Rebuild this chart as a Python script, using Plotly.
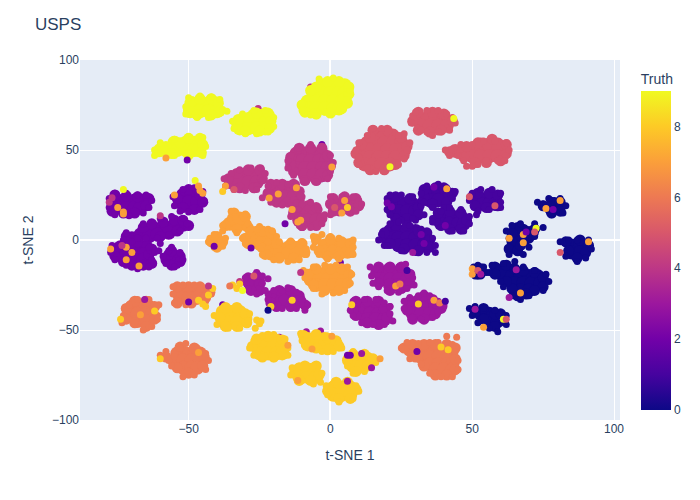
import plotly.graph_objects as go

# Values: (t-SNE 1, t-SNE 2), grouped by Truth class.
core_9 = [(-3,86),(0,86),(3,86),(5,86),(-6,81.5),(-3,81.5),(0,81.5),(3,81.5),(5,81.5),
          (-8,77),(-5,77),(-2,77),(1,77),(4,77),(5,78),(-8,73),(-5,73),(-2,73),(1,73),(3,73),
          (-49,76),(-46,76),(-43,76),(-40.5,76),(-49.5,71.5),(-46,71.5),(-43,71.5),(-40,71.5),
          (-27,69),(-24,69),(-22,69),(-32,65),(-29,65),(-26,65),(-23,65),(-32,62),(-29,62),(-26,62),(-23,62),
          (-51,54),(-48,54),(-46.5,54),(-55,54),(-60,50),(-57,50),(-54,50),(-51,50),(-48,50),(-46.5,50)]
edge_9 = [(-10,75),(-9,71),(-5,70),(0,70.5),(4,73),(6,76),(6.5,81),(6.5,85),(3,88),(-1,88),(-5,85),(-7,83),
          (-50,73),(-49,77),(-46,78.5),(-42,78.5),(-39.5,76),(-39,71.5),(-42,69.5),(-47,69.5),
          (-33,64),(-32.5,67),(-29,68),(-26,70.5),(-22,70.5),(-21,66),(-21.5,62),(-25,60.5),(-30,60.5),
          (-60.5,49),(-58,52),(-53,54),(-50,56.5),(-46,56.5),(-45,53),(-45.5,48.5),(-50,47.5),(-56,48)]
fringe_9 = [(-10,76),(-10,72),(-6,71),(-2,71),(7,83),(6,86),(1,90),(-4,89.5),(6,78),(-7,69.5),(-5,69),
            (-51,70),(-51,74),(-50,79),(-46,80),(-42,79.5),(-39,78),(-47,68),(-43,68),(-38,72.5),(-36.5,71.5),
            (-34,62),(-34.5,66),(-31,70),(-27,72),(-23,72),(-20,68),(-20,63),(-26,59),(-30,59),(-22,60),
            (-62,50),(-62,47),(-60,54),(-55,47),(-50,46),(-45,47),(-44,52),(-45,57),(-50,57.5),(-55,56)]

core_8 = [(-38,-40),(-35,-40),(-32,-40),(-38,-44),(-35,-44),(-32,-44),(-30,-44),(-36,-46),(-33,-46),
          (-24,-56),(-22,-56),(-19,-56),(-26,-59),(-23,-59),(-20,-59),(-17,-59),(-25,-63),(-22,-63),(-19,-63),(-17,-63),
          (-8,-55),(-5,-55),(-2,-55),(-8,-58),(-5,-58),(-2,-58),(1,-58),
          (-11,-72),(-8,-72),(-6,-72),(-11,-76),(-8,-76),(-5,-76),
          (1,-82),(4,-82),(7,-82),(1,-86),(4,-86),(7,-86),
          (8,-66),(11,-66),(13,-66),(8,-70),(11,-70)]
edge_8 = [(-39,-43),(-37,-37.5),(-33,-37.5),(-30,-41),(-29.5,-46),(-33,-48),(-37,-48),
          (-27.5,-59),(-26,-55),(-22,-53.5),(-17,-55.5),(-16,-60),(-20,-65),(-24,-65),
          (-9.5,-53),(-5,-52.5),(-1,-54.5),(2,-56),(3,-59),(-1,-61),(-5,-60),
          (-12.5,-73),(-9,-70),(-5,-70),(-4,-75),(-7,-78),(-11,-78),
          (-1,-84),(2,-79),(6,-79),(9,-83),(7,-88),(3,-88),
          (6,-67),(8,-63.5),(12,-63.5),(15,-66),(13,-70),(9,-73)]
fringe_8 = [(-41,-42),(-40,-47),(-36,-49),(-32,-49),(-29,-45),(-28.5,-41),(-37,-37),(-33,-37),
            (-26,-44.5),(-25,-46.5),(-26.5,-49),(-24.5,-45),
            (-28.5,-60),(-27,-56),(-24,-53),(-20,-52.5),(-16,-55),(-15,-60),(-15,-64),(-20,-66),(-24,-65),(-27,-64),
            (-10.5,-52),(-10,-56),(-7,-59),(-3,-62),(1,-62),(4,-60),(3,-57),(-5,-52),(-2,-54),
            (-13.5,-71),(-14,-75),(-11,-70),(-6,-70),(-3,-74),(-3.5,-79),(-6,-80),(-10,-78),
            (-1.5,-81),(2,-79),(6,-79),(9,-81),(10,-84),(8,-88),(3,-90),(-1,-86),
            (5.5,-66),(6,-70),(8,-74),(12,-73),(14,-70),(15,-66),(12,-63),(8,-62),(16,-68)]

core_7 = [(-35.5,9),(-32.5,9),(-30.5,9),(-34,12),(-32,12),
          (-28,2),(-25,2),(-22,2),(-27,-1),(-24,-1),(-22,-1),
          (-40,-1),
          (-21,-4.5),(-18,-4.5),(-15,-4.5),(-12,-4.5),(-10.5,-4.5),(-21,-7.5),(-18,-7.5),(-15,-7.5),(-12,-7.5),
          (-2,-3),(1,-3),(4,-3),(6,-3),(-2,-6.5),(1,-6.5),(4,-6.5),(6,-6.5),
          (-6,-19),(-3,-19),(0,-19),(3,-19),(5,-19),(-7,-22),(-4,-22),(-1,-22),(2,-22),(5,-22),(-5,-25),(-2,-25),(1,-25),(4,-25)]
edge_7 = [(-37,8),(-34,15),(-30,13),(-29,7),(-33,6),
          (-30,1),(-28,5),(-24,5),(-21,4),(-21,-2),(-25,-3),(-29,-2),
          (-23,-4),(-23,-8),(-19,-2),(-14,-2),(-10,-2),(-9,-7),(-13,-10),(-18,-10),
          (-42,-1),(-40,2),(-38,-1),(-40,-4),
          (-5,0.5),(0,0.5),(4,-1),(7,-2),(7,-7),(3,-9),(-1,-9),(-4,-6),
          (-8,-19),(-5,-16),(0,-16),(4,-16),(6.5,-19),(6,-24),(3,-28),(-2,-28),(-6,-25)]
fringe_7 = [(-38,8),(-38,5),(-35,16),(-33.5,13),(-30,14.5),(-29,9),(-28,6),(-33,4),
            (-31,1),(-30,-2),(-26,6),(-22,6),(-25,7.5),(-19,2),(-20.5,5),(-25.5,-2),(-24,-3.5),
            (-42.5,1),(-43,-1),(-41,3),(-37,1),(-38,-3.5),(-41,-4),
            (-24.5,-5),(-24,-8),(-22,-1),(-18,-1),(-14,-0.5),(-10,-1),(-8.5,-5),(-8.5,-8),(-11,-11),(-15,-12),(-20,-11),
            (-6,2),(-5.5,-1),(-3,3),(0,2),(3,1),(8,0),(8,-4),(8,-8),(3,-10.5),(-1,-10.5),(-4,-8),(-6,-4),
            (-9.5,-17),(-9,-21),(-6,-15),(-2,-14),(2,-14),(6,-15),(7.5,-19),(7,-24),(5,-28),(1,-29.5),(-3,-30),(-6,-27)]

core_6 = [(-53,-29),(-50,-29),(-47,-29),(-44.5,-29),(-53,-32),(-50,-32),(-47,-32),
          (-70,-37),(-67,-37),(-64,-37),(-71,-41),(-68,-41),(-65,-41),(-63,-41),(-68,-45),(-65,-45),
          (-54,-63),(-51,-63),(-48,-63),(-46,-63),(-55,-67),(-52,-67),(-49,-67),(-46,-67),(-52,-71),(-49,-71),(-47,-71),
          (28,-61),(31,-61),(34,-61),(37,-61),(40,-61),(42,-61),(32,-65),(35,-65),(38,-65),(41,-65),
          (35,-69),(38,-69),(41,-69),(43,-69),(37,-72),(40,-72),(43,-72)]
edge_6 = [(-54,-26),(-50,-26),(-46,-26),(-42.5,-29),(-44,-32),(-49,-35),(-54,-35),
          (-72,-38),(-69,-34),(-65,-34),(-62,-37),(-62,-44),(-65,-48),(-69,-46),(-72,-44),
          (-58,-65),(-53,-59.5),(-48,-60),(-44.5,-65),(-45,-70),(-50,-74),(-54,-71),
          (26,-60),(29,-58),(33,-58),(37,-58),(41,-58),(44,-60),(44,-66),(44,-72),(41,-75),(37,-75),(33,-70),(30,-65)]
fringe_6 = [(-55.5,-26),(-55.5,-30),(-55,-35),(-51,-36),(-47,-34),(-52,-25),(-48,-25),(-43,-28),(-42,-30),
            (-44,-34),
            (-71,-36),(-68,-33),(-64,-33),(-60.5,-36),(-61,-44),(-63,-48),(-66,-50),(-69,-46),(-73,-42),(-73.5,-46),(-61,-42),
            (-60,-64),(-58,-62),(-53,-60),(-51,-57.5),(-47,-60),(-44,-63),(-43,-67),(-44,-72),(-48,-75),(-52,-76),(-56,-70),(-57,-67),
            (25,-60),(27,-57),(31,-57.5),(35,-57),(38,-57),(28,-66),(32,-69),(35,-74),(39,-76),(43,-76),(45,-72),(45,-67),(44,-62),(43,-58),(44.5,-54),(41,-53.5)]

core_5 = [(31,67.5),(34,67.5),(37,67.5),(40,67.5),(32,63.5),(35,63.5),(38,63.5),(41,63.5),
          (16,58),(19,58),(22,58),(13,54),(16,54),(19,54),(22,54),(25,54),
          (11,50),(14,50),(17,50),(20,50),(23,50),(26,50),(11,46),(14,46),(17,46),(20,46),(23,46),
          (12,42),(15,42),(18,42),(21,42),
          (44,49.5),(47,49.5),(50,49.5),(53,49.5),(56,49.5),(59,49.5),(61,49.5),(53,53),(56,53),(59,53),
          (50,46.5),(53,46.5),(56,46.5),(59,46.5)]
edge_5 = [(29,66),(31,71),(36,71),(40,70),(43,66),(39,61),(35,60),(31,61),
          (15,61),(20,61),(25,57),(27,52),(26,47),(23,42),(19,39),(14,39),(10,43),(9,48),(11,53),(14,57),
          (42,49),(47,46),(51,43),(55,43),(60,44),(62,48),(62,53),(57,56),(52,54),(48,52)]
fringe_5 = [(28.5,65),(29,69),(30,71),(34,72),(38,72),(41,70),(43,68),(44,65),(42,61),(38,60),(34,60),(36,58),(32,61),
            (9,50),(10,46),(10,42),(13,40),(16,38),(20,40),(24,42),(26,45),(27,50),(28,54),(26,59),(24,58),(18,62),(15,62),(13,58),(10,54),
            (40.5,50),(42,47),(45,47),(47,44),(52,42),(50,41),(48,41),(55,44),(59,44),(62,47),(63,50),(62,54),(58,55),(54,55),(50,53),(46,53),(61.5,44)]

core_4 = [(-12,48),(-9,48),(-6,48),(-3,48),(-13,44),(-10,44),(-7,44),(-4,44),(-1.5,44),
          (-12,40),(-9,40),(-6,40),(-3,40),(-1,40),(-9,36),(-6,36),(-3,36),
          (-31,36),(-28,36),(-26,36),(-35,32),(-32,32),(-29,32),(-26,32),
          (-20,28),(-17,28),(-14,28),(-19,24),(-16,24),(-13,24),
          (-11,15),(-8,15),(-5.5,15),(-11,11),(-8,11),(-5,11),
          (2,20),(5,20),(8,20),(3,17)]
edge_4 = [(-14,46),(-11,51),(-7,51),(-3,51),(-1,47),(0,41),(-1,36),(-5,33),(-9,33),(-13,38),(-14,42),
          (-36,34),(-33,37),(-29,39),(-25,39),(-24,34),(-27,29),(-32,29),
          (-22,26),(-21,31),(-17,31),(-13,31),(-11,27),(-11,22),(-15,21),(-19,21),
          (-13,15),(-12,18),(-8,19),(-5,18),(-3,12),(-5,8),(-10,8),
          (1,23),(5,24),(9,23),(10,19),(7,16),(1,16),(0,20)]
fringe_4 = [(-15,44),(-15,40),(-14,47),(-11,51),(-7,53),(-3,52),(0,47),(1,43),(0,38),(-1,34),(-5,32.5),(-9,33),(-13,36),
            (-37.5,34),(-37,30),(-35,37),(-32,39),(-28,40),(-24.5,40),(-23,37),(-24,33),(-26,30),(-30,27.5),(-34,28),(-26,28),
            (-24,23.5),(-22,30),(-19,32),(-15,31),(-12,31),(-11,27),(-10,24),(-14,21),(-17,19.5),(-21,21),(-10.5,24.5),(-13,22.5),(-12,20.5),
            (-14,13),(-13,17),(-10,20),(-7,21),(-4,17),(-2,14),(-3,9),(-7,7),(-11,8),(-4.5,18),
            (0,24),(0,21),(4,24),(8,24),(10,22),(11,20),(6,16),(9,16),(0,14)]

core_3 = [(18,-18),(21,-18),(24,-18),(26,-18),(18,-22),(21,-22),(24,-22),(27,-22),(21,-25),(24,-25),
          (10,-37),(13,-37),(16,-37),(11,-41),(14,-41),(17,-41),(19,-41),(13,-44),(16,-44),(19,-44),
          (31,-34),(33,-34),(28,-37),(31,-37),(34,-37),(37,-37),(29,-41),(32,-41),(35,-41),
          (-19,-31),(-16,-31),(-13,-31),(-19,-34),(-16,-34),(-13,-34),(-11,-34),
          (-27,-23),(-25.5,-23),(-27,-26)]
edge_3 = [(16,-18),(17,-15),(21,-15),(25,-15),(28,-19),(28,-24),(25,-27),(21,-28),(17,-24),
          (9,-34),(13,-34),(17,-34),(19,-38),(20,-43),(17,-47),(13,-46),(9,-42),(8,-39),
          (28,-34),(33,-31),(36,-33),(39,-38),(37,-41),(33,-44),(29,-44),(27,-39),
          (-21,-31),(-18,-28),(-14,-28),(-11,-31),(-9,-36),(-14,-37),(-19,-37),(-21,-35),
          (-29,-21),(-26,-20),(-25,-25),(-25,-28),(-28,-28),(-29,-24)]
fringe_3 = [(14.5,-20),(15,-24),(16,-16),(20,-15),(24,-15),(27,-17),(29,-21),(29.5,-25),(27,-27),(24,-29),(20,-28),(17,-26),(14,-15),(26.5,-13.5),
            (8,-34),(12,-33),(16,-33),(19,-35),(21,-37),(21,-41),(22,-45),(19,-47),(15,-47),(11,-46),(8,-42),(7,-39),
            (26,-34),(26,-38),(28,-32),(31,-31),(33,-29.5),(35,-31),(38,-34),(40,-37),(38,-40),(36,-43),(32,-44),(29,-43),(40,-36),
            (-22,-33),(-22,-30),(-20,-28),(-17,-28),(-15,-26.5),(-12,-29),(-10,-33),(-8,-36),(-9,-39),(-12,-38),(-17,-38),(-20,-36),
            (-30,-21),(-26,-18),(-24,-20),(-24,-24),(-23,-28),(-26,-30),(-29,-27),(-22,-21.5)]

core_2 = [(-75,22),(-72,22),(-69,22),(-66,22),(-75,18),(-72,18),(-69,18),(-67,18),
          (-52,25),(-49,25),(-47,25),(-53,21),(-50,21),(-47,21),
          (-70,1),(-67,3),(-64,5),(-61,6),(-58,7),(-55,8),(-52,8.5),(-64,2),(-61,3),(-57,4),
          (-74,-4),(-71,-4),(-68,-4),(-65,-4),(-75,-8),(-72,-8),(-69,-8),(-66,-8),(-72,-11),(-69,-11),(-66,-11),
          (-55,-9),(-55,-11)]
edge_2 = [(-77,20),(-76,25),(-72,24.5),(-68,24),(-64,23),(-65,19),(-69,15),(-73,15),(-77,16),
          (-54,23),(-50,28),(-46,25),(-45,21),(-48,17),(-52,18),
          (-66,7),(-63,9),(-59,10),(-55,11),(-52,11),(-50,8),(-54,5),(-68,0),(-72,2),(-60,2),
          (-76,-5),(-76,-9),(-73,-12),(-70,-14),(-66,-14),(-63,-13),(-64,-8),(-63,-5),(-72,-1),(-68,-1),
          (-58,-11),(-57,-8),(-53,-9),(-53,-12),(-56,-14),(-56,-6)]
fringe_2 = [(-78,23),(-76,26),(-72,26),(-68,25),(-65,25),(-63,22),(-64,18),(-66,15),(-71,13.5),(-76,14),(-78,18),
            (-55.5,24),(-55,19),(-52,28),(-48,29),(-45,27),(-44.5,22),(-46,17),(-50,15.5),(-53,16),
            (-73,0),(-70,-1),(-66,9),(-60,12),(-56,13),(-52,12),(-50.5,9),(-53,5),(-57,3),(-61,1),(-65,1),(-72,4),
            (-77,-3),(-77.5,-7),(-76,-11),(-72,-14),(-68,-16),(-64,-15),(-63,-11),(-62,-7),(-64,-4),(-68,1),(-60.5,-6),(-60,-2),
            (-59,-9),(-58,-13),(-54,-14),(-52,-11),(-53,-7),(-57,-6),(-55,-15),(-56,-4)]

core_1 = [(23,20),(26,20),(29,20),(24,16),(27,16),(30,16),
          (35,26),(38,26),(41,26),(35,22),(38,22),
          (40,13),(43,13),(46,13),(39,9),(42,9),(45,9),(47,9),
          (52,23),(55,23),(58,23),(53,20),(56,20),(58,20),
          (21,5),(24,5),(27,5),(30,5),(21,1),(24,1),(27,1),(30,1),(33,1),(24,-3),(27,-3),(30,-3),(33,-3)]
edge_1 = [(21,22),(23,24),(28,23),(31,18),(31,14),(27,12),(23,12),(21,17),
          (33,24),(33,28),(37,29),(40,29),(43,26),(41,21),(36,20),
          (37,11),(38,15),(42,16),(46,15),(48,11),(46,6),(42,6),
          (50,24),(52,26),(56,26),(59,25),(59,19),(55,18),(51,19),
          (19,1),(19,4),(23,8),(27,8),(31,5),(34,4),(35,0),(35,-4),(31,-6),(26,-5),(21,-2)]
fringe_1 = [(20,23),(21,25),(25,25),(29,24),(32,20),(33,14),(30,11),(25,11),(21,14),(20,17),(32,19),(29,12),
            (32,26),(32,22),(34,30),(38,31),(41,29),(44,27),(43,23),(40,18),(36,18),(33,21),
            (36,12),(39,16),(42,18),(46,17),(49,13),(49,9),(47,5),(43,5),(39,7),(36,10),
            (49,22),(50,26),(53,28),(57,28),(60,26),(60,21),(60,18),(56,17),(52,16),
            (18,3),(17,0),(19,-3),(21,9),(24,10),(20,-3),(25,-6),(30,-7),(34,-7),(37,-3),(36,1),(32,6),(28,8),(37,-7)]

core_0 = [(78,17),(80,18),(79,20),(66,4),(69,4),(71,4),(65,0),(68,0),(65,-4),
          (85,-3),(88,-3),(85,-7),(88,-7),
          (60,-17),(63,-17),(61,-20),(64,-20),(67,-20),(70,-20),(73,-20),(65,-24),(68,-24),(71,-24),(74,-24),(67,-28),(70,-28),
          (53,-41),(56,-41),(56,-45),(59,-45)]
edge_0 = [(75,19),(78,21),(81,21),(81,16),(78,15),
          (68,6),(72,6),(66,7),(64,4),(64,-1),(63,-5),(66,-6),(67,-3),(70,1),
          (83,-1),(88,0),(91,-3),(90,-7),(87,-10),(84,-6),
          (58,-15),(58,-19),(62,-14),(65,-16),(68,-17),(72,-18),(75,-21),(75,-26),(72,-28),(64,-27),(62,-23),(66,-31),(69,-30),
          (51,-40),(54,-38),(58,-41),(61,-44),(58,-48),(54,-44),(60,-41),
          (51.5,-17),(53,-16),(53,-18.5),(52,-19)]
fringe_0 = [(73,21),(75,20),(76,18),(78,14),(82,15),(83,19),(81,23),(77,23),
            (62,5),(63,1),(63,-4),(63,-8),(68,-8),(70,-4),(72,2),(75,7),(72,9),(67,9),(64,8),
            (81,-1),(83,-9),(87,-12),(90,-10),(92,-5),(91,0),(87,0),(84,0),
            (56,-18),(57,-14),(61,-13),(65,-12),(68,-15),(72,-17),(76,-19),(77,-23),(75,-28),(70,-31),(67,-33),(64,-31),(61,-26),(60,-23),
            (49,-38),(50,-42),(52,-46),(56,-49),(59,-51),(62,-47),(62,-42),(58,-39),(54,-38),(51,-37),
            (50.5,-15),(52,-14),(54,-15),(55,-18),(53,-20),(51,-20)]

# points mostly hidden behind the blobs
behind_x = [-7,-9,5,-25.5,-38,-38,-18,-8.5,-3.5,-1,2.5,-3,-3,-10,3.5]
behind_y = [85,73.5,75,73,-36,-47,-54,-51,-50.5,-54,-55.5,34,53,7,-12.5]
behind_truth = [4,4,4,4,2,3,3,3,3,3,3,2,2,2,2]

# single points lying on top of the blobs or beside them
strays_x = [-58,-50.5,-47.7,-73,-55,-46.5,-46,-45,-77,-78,-75,-73,-73,-60,-37,-38,-34,-12,-18.4,-21.6,-13.5,-11.5,-10.5,-16,
            0.5,5,6,4,1.5,43.5,21,36.5,41,20,21.5,49,58,51.5,40.5,32,81,76,78.5,72.5,68,72,69,63,
            -77.5,-72,-73.5,-70,-72,-67.5,-10.5,-41,-28,-27,-32,-34.5,-32,-33,-31,-35.5,-13.5,-21,-22,
            -41.5,-43,-46.5,-45,-44,-43,-50,-65.5,-62,-67,-74,-15,0.5,-6.5,-11.5,6,6,-60,-46.5,
            27,23,24.5,7.5,21,31,36.5,38.5,40.5,50,50,52,53,65.5,67,63,51,61,62,54,91,81,68,29,33,39,41.5,30.5,17.5,14.5,7,11]
strays_y = [45.5,44.5,33,28,25,30,27.5,26,23.5,21,18,15.5,14.5,13.5,30,27,28,29,25.6,23.4,17,10,11,9,
            40.6,22,18,15,18,67.5,40.7,29.5,28.5,20.5,18.5,24,19,14,8,3,22,17.5,17,6.5,3,4.5,4.5,1,
            -5,-4,-3,-7,-11,-14.5,-18,-3.5,-4.5,-20,-23,-25,-24.5,-27,-28,-25.5,-33.5,-37,-39,
            -27,-30.5,-33.5,-35.5,-37,-25.5,-34.5,-33,-39.5,-41.5,-44,-58.5,-53.5,-60.5,-78,-78.5,-64,-66,-62.5,
            -17,-25.5,-24.5,-36,-37,-35.5,-33.5,-35,-34,-16,-19,-17,-19,-16.5,-29.5,-32,-38.5,-44,-44,-48.5,-1,-7,-1.5,-7,-2,-59.5,-61,-62,-66,-71,-64,-63]
strays_truth = [7,2,9,9,7,7,7,7,4,4,7,7,7,4,7,8,5,7,7,7,7,7,7,2,
                7,7,8,7,5,9,9,2,7,2,2,5,5,1,2,2,7,7,2,9,7,5,2,7,
                7,7,4,7,7,7,4,2,2,5,4,8,8,8,9,6,8,8,0,
                8,8,8,8,8,4,2,3,8,7,8,7,7,7,7,3,2,8,7,
                1,7,6,8,3,8,7,6,1,7,7,5,3,3,7,3,3,9,5,7,7,5,7,3,2,8,8,2,7,3,2,3]
assert len(strays_x) == len(strays_y) == len(strays_truth)

tick_vals = [0, 2, 4, 6, 8]
core_groups = [(9, core_9), (8, core_8), (7, core_7), (6, core_6), (5, core_5),
               (4, core_4), (3, core_3), (2, core_2), (1, core_1), (0, core_0)]
edge_groups = [(9, edge_9), (8, edge_8), (7, edge_7), (6, edge_6), (5, edge_5),
               (4, edge_4), (3, edge_3), (2, edge_2), (1, edge_1), (0, edge_0)]
fringe_groups = [(9, fringe_9), (8, fringe_8), (7, fringe_7), (6, fringe_6), (5, fringe_5),
                 (4, fringe_4), (3, fringe_3), (2, fringe_2), (1, fringe_1), (0, fringe_0)]


def add_groups(fig, groups, size):
    xs, ys, cs = [], [], []
    for truth, pts in groups:
        for x, y in pts:
            xs.append(x)
            ys.append(y)
            cs.append(truth)
    fig.add_trace(go.Scatter(x=xs, y=ys, mode="markers", showlegend=False,
                             marker=dict(size=size, color=cs, coloraxis="coloraxis")))


fig = go.Figure()
fig.add_trace(go.Scatter(x=behind_x, y=behind_y, mode="markers", showlegend=False,
                         marker=dict(size=7, color=behind_truth, coloraxis="coloraxis")))
add_groups(fig, core_groups, 14)
add_groups(fig, edge_groups, 11)
add_groups(fig, fringe_groups, 7)
fig.add_trace(go.Scatter(x=strays_x, y=strays_y, mode="markers", showlegend=False,
                         marker=dict(size=7, color=strays_truth, coloraxis="coloraxis")))
fig.update_layout(
    template="plotly",
    font=dict(family="Liberation Sans"),
    width=700, height=500,
    margin=dict(l=80, r=80, t=60, b=80),
    title=dict(text="USPS"),
    coloraxis=dict(colorscale="Plasma", cmin=0, cmax=9,
                   colorbar=dict(title=dict(text="Truth"), tickvals=tick_vals)),
    xaxis=dict(title="t-SNE 1", range=[-88.3, 102.1], tickvals=[-50, 0, 50, 100]),
    yaxis=dict(title="t-SNE 2", range=[-100, 100], tickvals=[-100, -50, 0, 50, 100]),
)
fig.write_html("out.html", post_script="document.body.style.margin='0';",
               config={"displayModeBar": False})
